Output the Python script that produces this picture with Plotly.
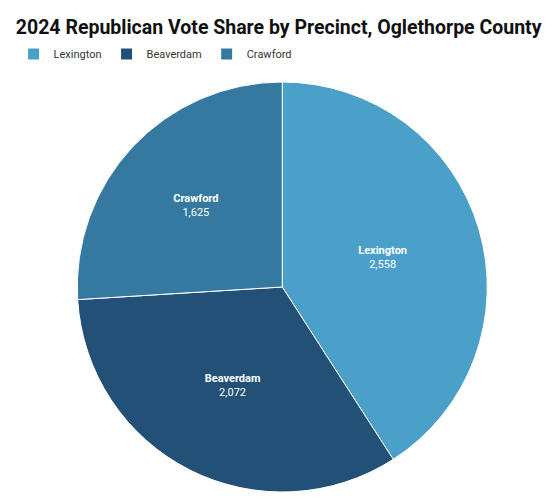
import plotly.graph_objects as go

precincts = ["Lexington", "Beaverdam", "Crawford"]
votes = [2558, 2072, 1625]
colors = ["#4ba0c9", "#235076", "#3579a1"]

fig = go.Figure(go.Pie(
    labels=precincts, values=votes, sort=False, direction="clockwise", rotation=0,
    marker=dict(colors=colors, line=dict(color="white", width=1)),
    texttemplate="<b>%{label}</b><br>%{value:,}", textposition="inside",
    insidetextorientation="horizontal",
    textfont=dict(color="white", size=11, family="Roboto"),
    domain=dict(x=[0.124, 0.859], y=[0.032, 0.852]),
    hoverinfo="label+value",
))
fig.update_layout(
    width=558, height=500, margin=dict(l=0, r=0, t=0, b=0),
    paper_bgcolor="white", font=dict(family="Roboto", color="#333"),
    title=dict(text="<b>2024 Republican Vote Share by Precinct, Oglethorpe County</b>",
               x=0.014, xanchor="left", y=0.962, yanchor="middle",
               font=dict(size=19.5, color="#111", family="Roboto")),
    legend=dict(orientation="h", x=0.01, y=0.908, xanchor="left", yanchor="middle",
                font=dict(size=11, color="#333"), itemwidth=30),
)
fig.write_html("out.html")
